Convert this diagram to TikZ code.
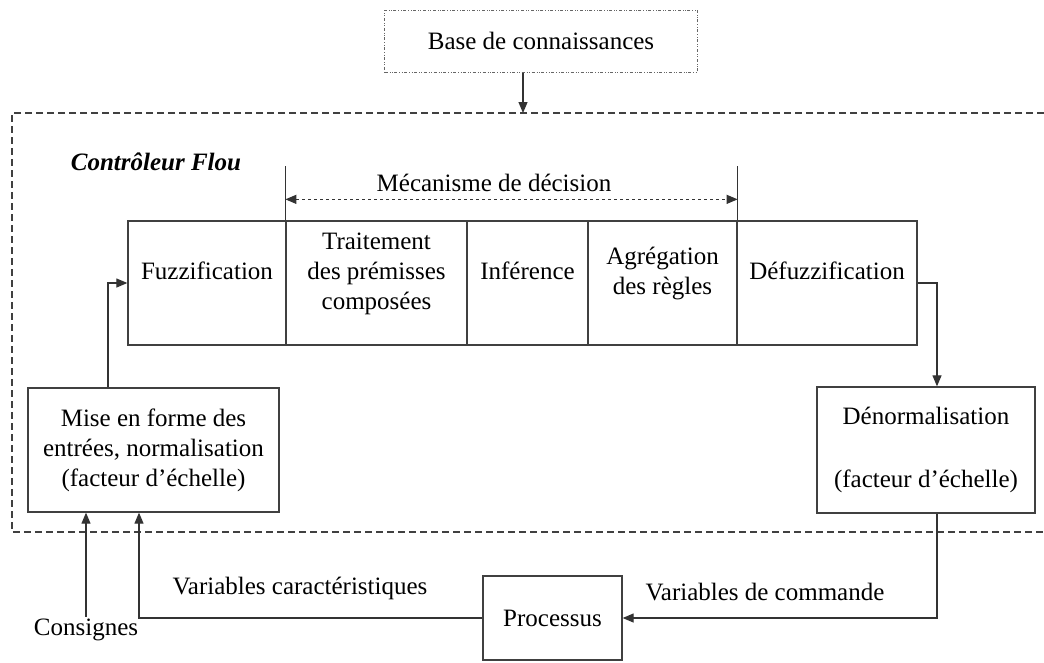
\documentclass[tikz,border=0pt]{standalone}
\usepackage{fontspec}
\setmainfont{Liberation Serif}
\usetikzlibrary{arrows.meta,positioning}
\tikzset{
  bloc/.style={draw=black!75,line width=1.3pt,minimum height=124pt,inner sep=2pt,align=center},
  etape/.style={bloc,text depth=24pt},
  arr/.style={draw=black!80,line width=1.2pt,-{Triangle[length=11pt,width=9pt]}},
  lbl/.style={inner sep=2pt}
}
\begin{document}
\begin{tikzpicture}[x=1pt,y=-1pt,font=\fontsize{25}{30}\selectfont]
\useasboundingbox (0,0) rectangle (1044,662);
%\draw[step=50,gray,very thin] (0,0) grid (1044,662);
% base de connaissances
\node[draw=black!60,dash dot dot,line width=1pt,minimum width=313pt,minimum height=62pt] (base) at (541,41) {Base de connaissances};
% controleur (cadre tirete)
\draw[black!75,line width=1.3pt,dash pattern=on 7pt off 4pt] (1044,113) -- (12,113) -- (12,532) -- (1044,532);
\coordinate (ctop) at (523,113);
\draw[arr] (base.south -| ctop) -- (ctop);
\node[lbl,font=\fontsize{25}{30}\selectfont\bfseries\itshape] (ctrl) at (156,162) {Contrôleur Flou};
% chaine principale
\node[etape,minimum width=158pt] (fuzz) at (207,283) {Fuzzification};
\node[etape,minimum width=181pt] (premis) at (376.5,283) {Traitement\\des prémisses\\composées};
\node[etape,minimum width=121pt] (infer) at (527.5,283) {Inférence};
\node[etape,minimum width=149pt] (agreg) at (662.5,283) {Agrégation\\des règles};
\node[etape,minimum width=180pt] (defuzz) at (827,283) {Défuzzification};
% mecanisme de decision
\draw[black!80,line width=1.2pt] (premis.north west) -- ++(0,-54) coordinate (mecL);
\draw[black!80,line width=1.2pt] (agreg.north east) -- ++(0,-54) coordinate (mecR);
\draw[black!80,line width=1.2pt,dashed,{Triangle[length=11pt,width=9pt]}-{Triangle[length=11pt,width=9pt]}] ([yshift=-33]mecL) -- ([yshift=-33]mecR);
\node[lbl] (meca) at (494,183) {Mécanisme de décision};
% entrees / sorties
\node[bloc,minimum width=251pt] (mise) at (153.5,450) {Mise en forme des\\entrées, normalisation\\(facteur d'échelle)};
\node[bloc,minimum width=218pt,minimum height=126pt] (denorm) at (926,450) {Dénormalisation\\[33pt](facteur d'échelle)};
\node[bloc,minimum width=139pt,minimum height=84pt] (proc) at (552.5,618) {Processus};
\node[lbl] (consig) at (86,630) {Consignes};
\node[lbl] (varcar) at (300,588) {Variables caractéristiques};
\node[lbl] (varcom) at (765,592) {Variables de commande};
% connexions
\draw[arr] ([xshift=-45.5]mise.north) |- (fuzz.west);
\draw[arr] (defuzz.east) -| ([xshift=11]denorm.north);
\draw[arr] ([xshift=11]denorm.south) |- (proc.east);
\draw[arr] (proc.west) -| ([xshift=-14.5]mise.south);
\draw[arr] (consig.north) -- (consig.north |- mise.south);
\end{tikzpicture}
\end{document}
